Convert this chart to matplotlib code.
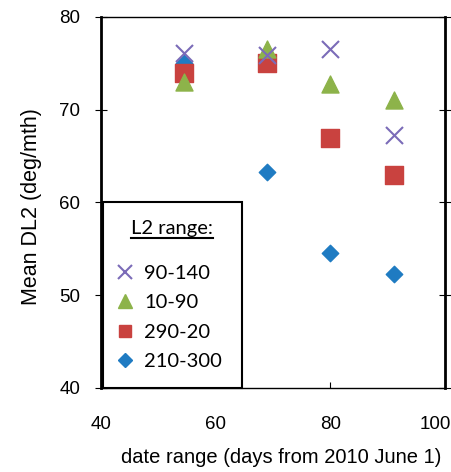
import numpy as np
import matplotlib
matplotlib.use('Agg')
import matplotlib.pyplot as plt
import matplotlib.transforms as mtrans

#podaci
dani = [54.5, 69, 80, 91]
r_90_140 = [76.1, 75.9, 76.5, 67.3]
r_10_90 = [73.0, 76.6, 72.8, 71.0]
r_290_20 = [74.0, 75.0, 67.0, 63.0]
r_210_300 = [75.0, 63.3, 54.6, 52.3]
oznake = ['90-140', '10-90', '290-20', '210-300']
x_tikovi = [40, 60, 80, 100]
y_tikovi = [40, 50, 60, 70, 80]

plt.rcParams['font.family'] = ['Liberation Sans', 'DejaVu Sans']

fig = plt.figure(figsize=(4.51, 4.72), dpi=100)
ax = fig.add_axes([0.224, 0.178, 0.763, 0.786])

ax.scatter(dani, r_210_300, marker='D', s=70, color='#1F7BC2', zorder=3)
ax.scatter(dani, r_290_20, marker='s', s=150, color='#C9423F', zorder=4)
ax.scatter(dani, r_10_90, marker='^', s=150, color='#8DB34A', zorder=5)
ax.scatter(dani, r_90_140, marker='x', s=150, color='#7B6BB8', linewidths=1.5, zorder=6)

ax.set_xlim(40, 100)
ax.set_ylim(40, 80)
ax.set_xticks(x_tikovi)
ax.set_yticks(y_tikovi)
ax.tick_params(axis='x', direction='in', length=4, labelsize=13.5, pad=20)
ax.tick_params(axis='y', direction='inout', length=8, labelsize=13.5, right=True, pad=11)
# poslednja oznaka na x osi ostaje unutar slike
xl = ax.get_xticklabels()
xl[-1].set_ha('right')
xl[-1].set_transform(xl[-1].get_transform() + mtrans.ScaledTranslation(4 / 72, 0, fig.dpi_scale_trans))

for s in ['left', 'right']:
    ax.spines[s].set_linewidth(2)
for s in ['top', 'bottom']:
    ax.spines[s].set_linewidth(1)

ax.set_xlabel('date range (days from 2010 June 1)', fontsize=14.5)
ax.xaxis.set_label_coords(0.523, -0.162)
ax.set_ylabel('Mean DL2 (deg/mth)', fontsize=15.5)
ax.yaxis.set_label_coords(-0.172, 0.49)

#legenda
h = [plt.Line2D([], [], ls='', marker='x', ms=10, mew=1.5, color='#7B6BB8'),
     plt.Line2D([], [], ls='', marker='^', ms=10, color='#8DB34A'),
     plt.Line2D([], [], ls='', marker='s', ms=9, color='#C9423F'),
     plt.Line2D([], [], ls='', marker='D', ms=7, color='#1F7BC2')]
leg = ax.legend(h, oznake, loc='lower left', bbox_to_anchor=(0.005, 0.0, 0.404, 0.5),
                mode='expand', borderaxespad=0, title='L2 range:', fancybox=False,
                edgecolor='black', framealpha=1, handletextpad=0.75,
                labelspacing=0.6, borderpad=0.9, handlelength=0.4,
                prop={'family': 'Lato', 'size': 14.5})
leg.get_frame().set_linewidth(1.5)
leg.get_title().set_fontfamily('Lato')
leg.get_title().set_fontsize(14.5)
leg._legend_box.sep = 20
leg.set_zorder(10)

fig.canvas.draw()
# podvlacenje naslova legende
tt = leg.get_title()
bb = tt.get_window_extent().transformed(fig.transFigure.inverted())
fig.add_artist(plt.Line2D([bb.x0, bb.x1], [bb.y0 - 0.002, bb.y0 - 0.002],
                          transform=fig.transFigure, color='black', lw=1.5, zorder=11))

plt.savefig('out.png', dpi=100)
